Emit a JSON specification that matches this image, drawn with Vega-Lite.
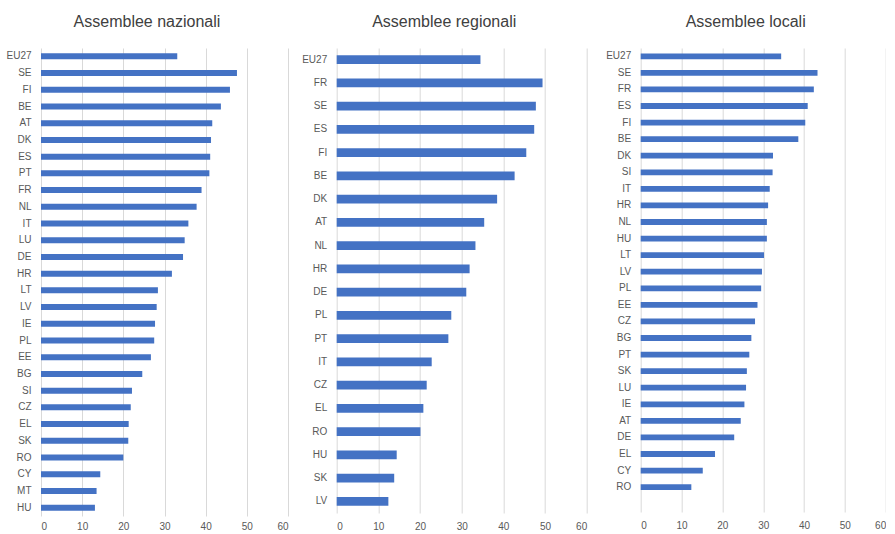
{
  "$schema": "https://vega.github.io/schema/vega-lite/v6.json",
  "autosize": {"type": "pad"},
  "padding": {"left": 5, "top": 14, "right": 0, "bottom": 0},
  "background": "white",
  "datasets": {
    "nazionali": [
      {"paese": "EU27", "valore": 33.1}, {"paese": "SE", "valore": 47.6}, {"paese": "FI", "valore": 45.9},
      {"paese": "BE", "valore": 43.7}, {"paese": "AT", "valore": 41.6}, {"paese": "DK", "valore": 41.3},
      {"paese": "ES", "valore": 41.1}, {"paese": "PT", "valore": 40.9}, {"paese": "FR", "valore": 39.0},
      {"paese": "NL", "valore": 37.8}, {"paese": "IT", "valore": 35.8}, {"paese": "LU", "valore": 34.9},
      {"paese": "DE", "valore": 34.5}, {"paese": "HR", "valore": 31.8}, {"paese": "LT", "valore": 28.4},
      {"paese": "LV", "valore": 28.1}, {"paese": "IE", "valore": 27.7}, {"paese": "PL", "valore": 27.5},
      {"paese": "EE", "valore": 26.7}, {"paese": "BG", "valore": 24.6}, {"paese": "SI", "valore": 22.1},
      {"paese": "CZ", "valore": 21.8}, {"paese": "EL", "valore": 21.3}, {"paese": "SK", "valore": 21.2},
      {"paese": "RO", "valore": 20.0}, {"paese": "CY", "valore": 14.4}, {"paese": "MT", "valore": 13.5},
      {"paese": "HU", "valore": 13.1}
    ],
    "regionali": [
      {"paese": "EU27", "valore": 34.5}, {"paese": "FR", "valore": 49.4}, {"paese": "SE", "valore": 47.8},
      {"paese": "ES", "valore": 47.4}, {"paese": "FI", "valore": 45.5}, {"paese": "BE", "valore": 42.7},
      {"paese": "DK", "valore": 38.5}, {"paese": "AT", "valore": 35.4}, {"paese": "NL", "valore": 33.3},
      {"paese": "HR", "valore": 31.9}, {"paese": "DE", "valore": 31.1}, {"paese": "PL", "valore": 27.5},
      {"paese": "PT", "valore": 26.8}, {"paese": "IT", "valore": 22.8}, {"paese": "CZ", "valore": 21.6},
      {"paese": "EL", "valore": 20.8}, {"paese": "RO", "valore": 20.1}, {"paese": "HU", "valore": 14.4},
      {"paese": "SK", "valore": 13.8}, {"paese": "LV", "valore": 12.4}
    ],
    "locali": [
      {"paese": "EU27", "valore": 34.4}, {"paese": "SE", "valore": 43.3}, {"paese": "FR", "valore": 42.4},
      {"paese": "ES", "valore": 40.9}, {"paese": "FI", "valore": 40.3}, {"paese": "BE", "valore": 38.6},
      {"paese": "DK", "valore": 32.4}, {"paese": "SI", "valore": 32.3}, {"paese": "IT", "valore": 31.6},
      {"paese": "HR", "valore": 31.2}, {"paese": "NL", "valore": 30.9}, {"paese": "HU", "valore": 30.9},
      {"paese": "LT", "valore": 30.2}, {"paese": "LV", "valore": 29.7}, {"paese": "PL", "valore": 29.5},
      {"paese": "EE", "valore": 28.6}, {"paese": "CZ", "valore": 28.0}, {"paese": "BG", "valore": 27.1},
      {"paese": "PT", "valore": 26.6}, {"paese": "SK", "valore": 26.0}, {"paese": "LU", "valore": 25.8},
      {"paese": "IE", "valore": 25.4}, {"paese": "AT", "valore": 24.5}, {"paese": "DE", "valore": 22.9},
      {"paese": "EL", "valore": 18.2}, {"paese": "CY", "valore": 15.2}, {"paese": "RO", "valore": 12.4}
    ]
  },
  "bounds": "flush",
  "spacing": 48.7,
  "hconcat": [
    {
      "title": "Assemblee nazionali",
      "width": 247,
      "height": 468,
      "data": {"name": "nazionali"},
      "mark": {"type": "bar", "color": "#4472C4"},
      "encoding": {
        "y": {"field": "paese", "type": "nominal", "sort": null, "title": null,
              "scale": {"paddingInner": 0.64, "paddingOuter": 0.32}},
        "x": {"field": "valore", "type": "quantitative", "title": null,
              "scale": {"domain": [0, 60], "nice": false},
              "axis": {"values": [0, 10, 20, 30, 40, 50, 60], "labelPadding": 5}}
      }
    },
    {
      "bounds": "flush",
      "spacing": 54,
      "hconcat": [
        {
          "title": "Assemblee regionali",
          "width": 250,
          "height": 465,
          "data": {"name": "regionali"},
          "mark": {"type": "bar", "color": "#4472C4"},
          "encoding": {
            "y": {"field": "paese", "type": "nominal", "sort": null, "title": null,
                  "scale": {"paddingInner": 0.62, "paddingOuter": 0.31}},
            "x": {"field": "valore", "type": "quantitative", "title": null,
                  "scale": {"domain": [0, 60], "nice": false},
                  "axis": {"values": [0, 10, 20, 30, 40, 50, 60]}}
          }
        },
        {
          "title": "Assemblee locali",
          "width": 245,
          "height": 464,
          "data": {"name": "locali"},
          "mark": {"type": "bar", "color": "#4472C4"},
          "encoding": {
            "y": {"field": "paese", "type": "nominal", "title": null,
                  "scale": {"paddingInner": 0.65, "paddingOuter": 0.325,
                            "domain": ["EU27", "SE", "FR", "ES", "FI", "BE", "DK", "SI", "IT", "HR", "NL", "HU", "LT", "LV", "PL", "EE", "CZ", "BG", "PT", "SK", "LU", "IE", "AT", "DE", "EL", "CY", "RO", ""]}},
            "x": {"field": "valore", "type": "quantitative", "title": null,
                  "scale": {"domain": [0, 60], "nice": false},
                  "axis": {"values": [0, 10, 20, 30, 40, 50, 60]}}
          }
        }
      ]
    }
  ],
  "config": {
    "view": {"stroke": null},
    "font": "Liberation Sans",
    "title": {"fontSize": 16, "fontWeight": "normal", "color": "#404040", "offset": 18, "anchor": "middle", "frame": "bounds", "font": "Liberation Sans"},
    "axis": {
      "domain": false,
      "ticks": false,
      "labelFont": "Liberation Sans",
      "labelFontSize": 10,
      "labelColor": "#595959",
      "gridColor": "#D9D9D9",
      "gridWidth": 1
    },
    "axisY": {"grid": false, "labelPadding": 10},
    "axisX": {"grid": true, "labelPadding": 8}
  }
}
